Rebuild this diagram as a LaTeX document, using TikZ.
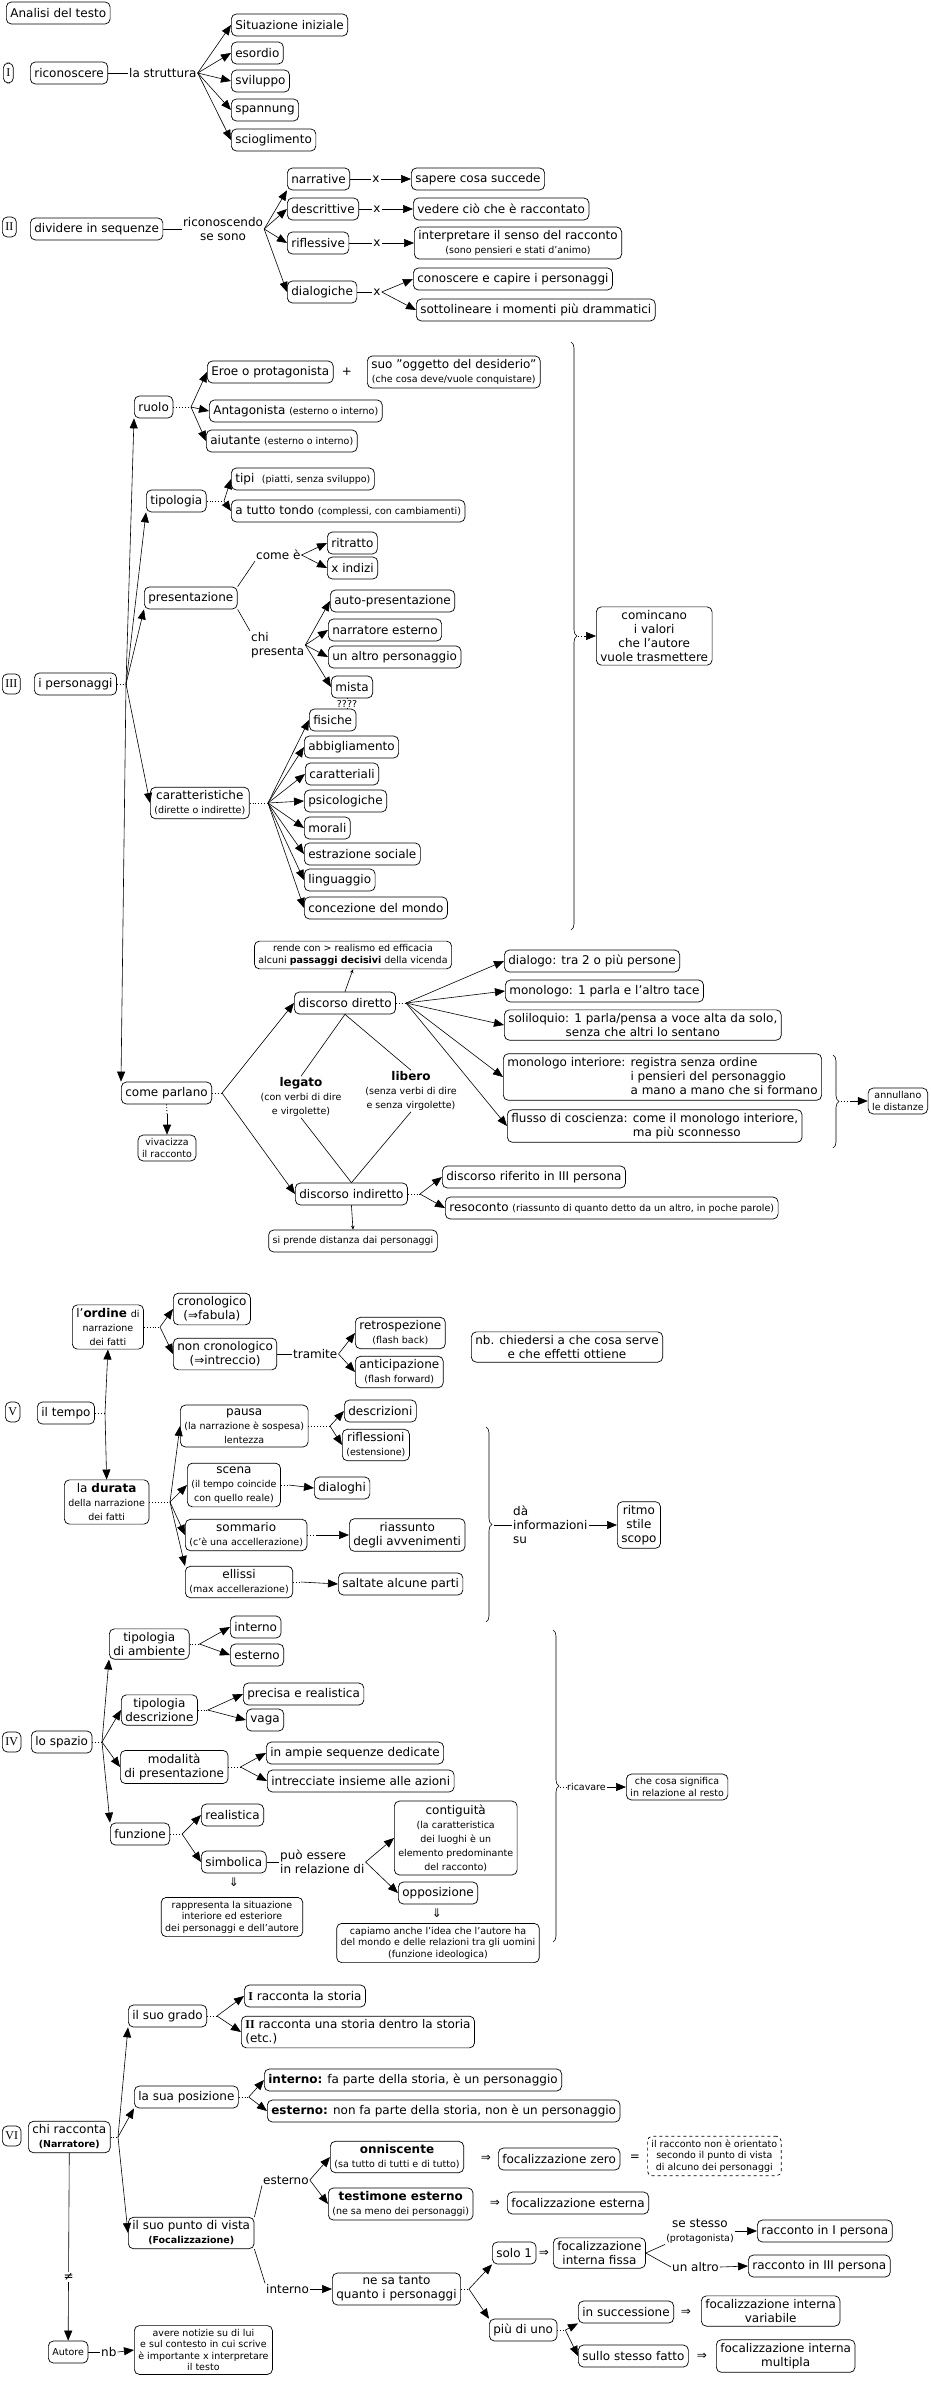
\documentclass[tikz,border=0pt]{standalone}
\usepackage{fontspec}
\setmainfont{DejaVu Sans}
\newfontfamily\romfont{Liberation Serif}
\usetikzlibrary{arrows.meta,decorations.pathreplacing}
\newcommand{\nf}{\fontsize{12}{14}\selectfont}
\newcommand{\smf}{\fontsize{9.5}{11.5}\selectfont}
\begin{document}
\begin{tikzpicture}[x=1pt,y=-1pt,
 bx/.style={draw, rounded corners=5pt, line width=0.7pt, inner xsep=4pt, inner ysep=3.5pt, minimum height=22pt, align=center, font=\nf},
 sbx/.style={bx, font=\smf},
 rm/.style={bx, font=\romfont\nf, minimum height=20pt, inner xsep=3pt},
 lb/.style={inner sep=1pt, align=center, font=\nf},
 slb/.style={lb, font=\smf},
 ar/.style={-{Triangle[length=10pt,width=8pt]}, line width=0.6pt},
 ln/.style={line width=0.6pt},
 dt/.style={dotted, line width=0.9pt},
 sa/.style={-{Stealth[length=4pt,width=3.5pt]}, line width=0.6pt},
 br/.style={decorate, decoration={brace, amplitude=6pt}, line width=0.6pt},
]
\fill[white] (0,0) rectangle (930,2381);
\useasboundingbox (0,0) rectangle (930,2381);

\node[bx,anchor=west] (ana) at (6,13) {Analisi del testo};

% ---------- I
\node[rm,anchor=west] (r1) at (3,73) {I};
\node[bx,anchor=west] (ric) at (30,73) {riconoscere};
\node[lb,anchor=west] (str) at (128,73) {la struttura};
\draw[ln] (ric) -- (str);
\node[bx,anchor=west] (s1) at (231,25) {Situazione iniziale};
\node[bx,anchor=west] (s2) at (231,53) {esordio};
\node[bx,anchor=west] (s3) at (231,81) {sviluppo};
\node[bx,anchor=west] (s4) at (231,110) {spannung};
\node[bx,anchor=west] (s5) at (231,140) {scioglimento};
\foreach \n in {s1,s2,s3,s4,s5} \draw[ar] (str.east) -- (\n.west);

% ---------- II
\node[rm,anchor=west] (r2) at (2,227) {II};
\node[bx,anchor=west] (div) at (30,229) {dividere in sequenze};
\node[lb] (ric2) at (223,229) {riconoscendo\\se sono};
\draw[ln] (div) -- (ric2);
\node[bx,anchor=west] (narr) at (287,179) {narrative};
\node[bx,anchor=west] (desc) at (287,209) {descrittive};
\node[bx,anchor=west] (rifl) at (287,243) {riflessive};
\node[bx,anchor=west] (dial) at (287,292) {dialogiche};
\draw[ar] (ric2.east) -- (narr.south west);
\draw[ar] (ric2.east) -- (desc.west);
\draw[ar] (ric2.east) -- (rifl.west);
\draw[ar] (ric2.east) -- (dial.west);
\node[lb] (x1) at (376,179) {x};
\node[lb] (x2) at (377,209) {x};
\node[lb] (x3) at (377,243) {x};
\node[lb] (x4) at (377,292) {x};
\node[bx,anchor=west] (sap) at (411,179) {sapere cosa succede};
\node[bx,anchor=west] (ved) at (413,209) {vedere ciò che è raccontato};
\node[bx,anchor=west] (intp) at (414,243) {interpretare il senso del racconto\\{\smf (sono pensieri e stati d'animo)}};
\node[bx,anchor=west] (con) at (413,279) {conoscere e capire i personaggi};
\node[bx,anchor=west] (sot) at (416,310) {sottolineare i momenti più drammatici};
\draw[ln] (narr) -- (x1); \draw[ar] (x1) -- (sap);
\draw[ln] (desc) -- (x2); \draw[ar] (x2) -- (ved);
\draw[ln] (rifl) -- (x3); \draw[ar] (x3) -- (intp);
\draw[ln] (dial) -- (x4); \draw[ar] (x4.east) -- (con.west); \draw[ar] (x4.east) -- (sot.west);

% ---------- III
\node[rm,anchor=west] (r3) at (2,684) {III};
\node[bx,anchor=west] (pers) at (34,684) {i personaggi};
\coordinate (pc) at (126,684);
\draw[dt] (pers.east) -- (pc);

\node[bx,anchor=west] (ruolo) at (134,407) {ruolo};
\node[bx,anchor=west] (eroe) at (207,372) {Eroe o protagonista};
\node[lb] (plus) at (347,372) {+};
\node[bx,anchor=west] (ogg) at (367,372) {suo "oggetto del desiderio"\\{\smf (che cosa deve/vuole conquistare)}};
\node[bx,anchor=west] (ant) at (209,411) {Antagonista {\smf (esterno o interno)}};
\node[bx,anchor=west] (aiu) at (206,441) {aiutante {\smf (esterno o interno)}};
\coordinate (rc) at (191,407);
\draw[dt] (ruolo.east) -- (rc);
\draw[ar] (rc) -- (eroe.west); \draw[ar] (rc) -- (ant.west); \draw[ar] (rc) -- (aiu.west);

\node[bx,anchor=west] (tipol) at (146,501) {tipologia};
\node[bx,anchor=west] (tipi) at (231,479) {tipi~~{\smf (piatti, senza sviluppo)}};
\node[bx,anchor=west] (tt) at (231,511) {a tutto tondo {\smf (complessi, con cambiamenti)}};
\coordinate (tc) at (224,501);
\draw[dt] (tipol.east) -- (tc);
\draw[ar] (tc) -- (tipi.west); \draw[ar] (tc) -- (tt.west);

\node[bx,anchor=west] (pres) at (144,598) {presentazione};
\node[lb,anchor=west] (comee) at (255,555) {come è};
\node[bx,anchor=west] (ritr) at (327,543) {ritratto};
\node[bx,anchor=west] (xind) at (327,568) {x indizi};
\draw[ln] (pres.north east) -- (comee.south west);
\draw[ar] (comee.east) -- (ritr.west); \draw[ar] (comee.east) -- (xind.west);
\node[lb,anchor=west,align=left] (chip) at (250,645) {chi\\presenta};
\draw[ln] (pres.south east) -- (chip.north west);
\node[bx,anchor=west] (auto) at (330,601) {auto-presentazione};
\node[bx,anchor=west] (nare) at (328,630) {narratore esterno};
\node[bx,anchor=west] (altro) at (328,657) {un altro personaggio};
\node[bx,anchor=west] (mista) at (331,687) {mista};
\draw[ar] (chip.east) -- (auto.west); \draw[ar] (chip.east) -- (nare.west);
\draw[ar] (chip.east) -- (altro.west); \draw[ar] (chip.east) -- (mista.west);

\node[bx,anchor=west] (fis) at (309,720) {fisiche};
\draw[ln] (347,698) -- node[slb,fill=white,inner sep=0.5pt] {????} (347,709);
\node[bx,anchor=west] (abb) at (304,747) {abbigliamento};
\node[bx,anchor=west] (carl) at (305,774) {caratteriali};
\node[bx,anchor=west] (psi) at (304,801) {psicologiche};
\node[bx,anchor=west] (mor) at (304,828) {morali};
\node[bx,anchor=west] (estr) at (304,854) {estrazione sociale};
\node[bx,anchor=west] (ling) at (304,880) {linguaggio};
\node[bx,anchor=west] (conc) at (304,908) {concezione del mondo};
\node[bx,anchor=west] (car) at (150,803) {caratteristiche\\{\smf (dirette o indirette)}};
\coordinate (cc) at (268,803);
\draw[dt] (car.east) -- (cc);
\foreach \n in {fis,abb,carl,psi,mor,estr,ling,conc} \draw[ar] (cc) -- (\n.west);

\draw[br] (571,342) -- (571,930);
\node[bx,anchor=west] (com) at (596,636) {comincano\\i valori\\che l'autore\\vuole trasmettere};
\draw[dt] (578,636) -- (585,636);
\draw[ar] (585,636) -- (com.west);

\node[bx,anchor=west] (parl) at (121,1093) {come parlano};
\node[sbx] (viv) at (167,1148) {vivacizza\\il racconto};
\coordinate (pv) at (167,1114);
\draw[dt] (parl.south) -- (pv); \draw[ar] (pv) -- (viv.north);
\node[bx,anchor=west] (dd) at (294,1003) {discorso diretto};
\node[bx,anchor=west] (di) at (295,1194) {discorso indiretto};
\coordinate (pc2) at (222,1093);
\draw[dt] (parl.east) -- (pc2);
\draw[ar] (pc2) -- (dd.west); \draw[ar] (pc2) -- (di.west);

\draw[ar] (pc) -- (ruolo.south west);
\draw[ar] (pc) -- (tipol.south west);
\draw[ar] (pc) -- (pres.south west);
\draw[ar] (pc) -- (car.west);
\draw[ar] (pc) -- (parl.north west);

\node[sbx] (rende) at (353,955) {rende con > realismo ed efficacia\\alcuni \textbf{passaggi decisivi} della vicenda};
\draw[sa] (dd.north) -- (rende.south);

\node[lb] (leg) at (301,1097) {\textbf{legato}\\{\smf (con verbi di dire}\\{\smf e virgolette)}};
\node[lb] (lib) at (411,1091) {\textbf{libero}\\{\smf (senza verbi di dire}\\{\smf e senza virgolette)}};
\draw[ln] (dd.south) -- (leg.north); \draw[ln] (leg.south) -- (di.north);
\draw[ln] (dd.south) -- (lib.north); \draw[ln] (lib.south) -- (di.north);

\node[bx,anchor=west] (dia) at (504,961) {dialogo: tra 2 o più persone};
\node[bx,anchor=west] (mon) at (505,991) {monologo: 1 parla e l'altro tace};
\node[bx,anchor=west] (sol) at (504,1025) {soliloquio: 1 parla/pensa a voce alta da solo,\\senza che altri lo sentano};
\node[bx,anchor=west,align=left] (mi) at (503,1077) {monologo interiore: registra senza ordine\\\phantom{monologo interiore: }i pensieri del personaggio\\\phantom{monologo interiore: }a mano a mano che si formano};
\node[bx,anchor=west,align=left] (flu) at (507,1126) {flusso di coscienza: come il monologo interiore,\\\phantom{flusso di coscienza: }ma più sconnesso};
\coordinate (pd) at (406,1003);
\draw[dt] (dd.east) -- (pd);
\foreach \n in {dia,mon,sol,mi,flu} \draw[ar] (pd) -- (\n.west);

\draw[br] (833,1055) -- (833,1148);
\node[sbx,anchor=east] (ann) at (928,1101) {annullano\\le distanze};
\draw[dt] (841,1101) -- (851,1101);
\draw[ar] (851,1101) -- (ann.west);

\node[bx,anchor=west] (rif) at (442,1177) {discorso riferito in III persona};
\node[bx,anchor=west] (reso) at (445,1208) {resoconto {\smf (riassunto di quanto detto da un altro, in poche parole)}};
\coordinate (pi) at (420,1194);
\draw[dt] (di.east) -- (pi);
\draw[ar] (pi) -- (rif.west); \draw[ar] (pi) -- (reso.west);
\node[sbx] (dist) at (353,1241) {si prende distanza dai personaggi};
\draw[sa] (di.south) -- (dist.north);

% ---------- V
\node[bx,anchor=west] (ord) at (72,1327) {l'\textbf{ordine} {\smf di}\\{\smf narrazione}\\{\smf dei fatti}};
\node[bx,anchor=west] (cro) at (173,1309) {cronologico\\(⇒fabula)};
\node[bx,anchor=west] (ncro) at (173,1354) {non cronologico\\(⇒intreccio)};
\coordinate (oc) at (160,1327);
\draw[dt] (ord.east) -- (oc);
\draw[ar] (oc) -- (cro.west); \draw[ar] (oc) -- (ncro.west);
\node[lb,anchor=west] (tram) at (292,1354) {tramite};
\draw[ln] (ncro.east) -- (tram.west);
\node[bx,anchor=west] (retro) at (355,1333) {retrospezione\\{\smf (flash back)}};
\node[bx,anchor=west] (antic) at (355,1372) {anticipazione\\{\smf (flash forward)}};
\draw[ar] (tram.east) -- (retro.west); \draw[ar] (tram.east) -- (antic.west);
\node[bx,anchor=west] (nb) at (471,1347) {nb. chiedersi a che cosa serve\\e che effetti ottiene};

\node[rm,anchor=west] (r5) at (5,1412) {V};
\node[bx,anchor=west] (tempo) at (37,1413) {il tempo};
\coordinate (tpc) at (105,1413);
\draw[dt] (tempo.east) -- (tpc);
\node[bx,anchor=west] (dur) at (64,1502) {la \textbf{durata}\\{\smf della narrazione}\\{\smf dei fatti}};
\draw[ar] (tpc) -- (ord.south); \draw[ar] (tpc) -- (dur.north);

\node[bx,anchor=west] (pausa) at (180,1426) {pausa\\{\smf (la narrazione è sospesa)}\\{\smf lentezza}};
\node[bx,anchor=west] (descr) at (344,1411) {descrizioni};
\node[bx,anchor=west] (riflz) at (342,1445) {riflessioni\\{\smf (estensione)}};
\coordinate (pac) at (330,1426);
\draw[dt] (pausa.east) -- (pac);
\draw[ar] (pac) -- (descr.west); \draw[ar] (pac) -- (riflz.west);
\node[bx,anchor=west] (scena) at (187,1485) {scena\\{\smf (il tempo coincide}\\{\smf con quello reale)}};
\node[bx,anchor=west] (dlg) at (314,1488) {dialoghi};
\draw[dt] (scena.east) -- ++(8,0) coordinate (sc);
\draw[ar] (sc) -- (dlg.west);
\node[bx,anchor=west] (som) at (185,1535) {sommario\\{\smf (c'è una accellerazione)}};
\node[bx,anchor=west] (ria) at (349,1535) {riassunto\\degli avvenimenti};
\draw[dt] (som.east) -- ++(10,0) coordinate (smc);
\draw[ar] (smc) -- (ria.west);
\node[bx,anchor=west] (ell) at (185,1582) {ellissi\\{\smf (max accellerazione)}};
\node[bx,anchor=west] (salt) at (338,1584) {saltate alcune parti};
\draw[dt] (ell.east) -- ++(8,0) coordinate (elc);
\draw[ar] (elc) -- (salt.west);
\coordinate (dc) at (170,1502);
\draw[dt] (dur.east) -- (dc);
\draw[ar] (dc) -- (pausa.west); \draw[ar] (dc) -- (scena.west);
\draw[ar] (dc) -- (som.west); \draw[ar] (dc) -- (ell.north west);

\draw[br] (486,1427) -- (486,1622);
\node[lb,anchor=west,align=left] (da) at (512,1525) {dà\\informazioni\\su};
\draw[ln] (494,1525) -- (da.west);
\node[bx,anchor=west] (rit) at (617,1525) {ritmo\\stile\\scopo};
\draw[ar] (da.east) -- (rit.west);

% ---------- IV
\node[rm,anchor=west] (r4) at (2,1742) {IV};
\node[bx,anchor=west] (spazio) at (31,1742) {lo spazio};
\coordinate (spc) at (102,1742);
\draw[dt] (spazio.east) -- (spc);
\node[bx,anchor=west] (amb) at (109,1644) {tipologia\\di ambiente};
\node[bx,anchor=west] (inte) at (230,1627) {interno};
\node[bx,anchor=west] (este) at (230,1655) {esterno};
\draw[dt] (amb.east) -- ++(10,0) coordinate (ac);
\draw[ar] (ac) -- (inte.west); \draw[ar] (ac) -- (este.west);
\node[bx,anchor=west] (tdes) at (121,1710) {tipologia\\descrizione};
\node[bx,anchor=west] (prec) at (243,1694) {precisa e realistica};
\node[bx,anchor=west] (vaga) at (246,1720) {vaga};
\draw[dt] (tdes.east) -- ++(10,0) coordinate (tdc);
\draw[ar] (tdc) -- (prec.west); \draw[ar] (tdc) -- (vaga.west);
\node[bx,anchor=west] (mod) at (120,1767) {modalità\\di presentazione};
\node[bx,anchor=west] (amp) at (266,1753) {in ampie sequenze dedicate};
\node[bx,anchor=west] (intr) at (267,1781) {intrecciate insieme alle azioni};
\draw[dt] (mod.east) -- ++(12,0) coordinate (mc);
\draw[ar] (mc) -- (amp.west); \draw[ar] (mc) -- (intr.west);
\node[bx,anchor=west] (fun) at (110,1834) {funzione};
\node[bx,anchor=west] (real) at (201,1815) {realistica};
\node[bx,anchor=west] (simb) at (201,1862) {simbolica};
\draw[dt] (fun.east) -- ++(12,0) coordinate (fc);
\draw[ar] (fc) -- (real.west); \draw[ar] (fc) -- (simb.west);
\draw[ar] (spc) -- (amb.south west); \draw[ar] (spc) -- (tdes.west);
\draw[ar] (spc) -- (mod.west); \draw[ar] (spc) -- (fun.north west);

\node[lb,anchor=west,align=left] (pue) at (279,1862) {può essere\\in relazione di};
\draw[ln] (simb.east) -- (pue.west);
\node[bx,anchor=west] (cont) at (394,1838) {contiguità\\{\smf (la caratteristica}\\{\smf dei luoghi è un}\\{\smf elemento predominante}\\{\smf del racconto)}};
\node[bx,anchor=west] (opp) at (398,1893) {opposizione};
\draw[ar] (pue.east) -- (cont.west); \draw[ar] (pue.east) -- (opp.west);
\node[lb] (dn1) at (234,1882) {⇓};
\node[sbx] (rap) at (232,1917) {rappresenta la situazione\\interiore ed esteriore\\dei personaggi e dell'autore};
\node[lb] (dn2) at (437,1913) {⇓};
\node[sbx] (cap) at (438,1943) {capiamo anche l'idea che l'autore ha\\del mondo e delle relazioni tra gli uomini\\(funzione ideologica)};

\draw[br] (553,1630) -- (553,1942);
\draw[dt] (560,1787) -- (566,1787);
\node[slb,anchor=west] (rcv) at (566,1787) {ricavare};
\node[sbx,anchor=west] (sig) at (626,1787) {che cosa significa\\in relazione al resto};
\draw[ar] (rcv.east) -- (sig.west);

% ---------- VI
\node[rm,anchor=west] (r6) at (2,2136) {VI};
\node[bx,anchor=west] (chi) at (28,2137) {chi racconta\\{\smf\bfseries (Narratore)}};
\coordinate (chc) at (118,2137);
\draw[dt] (chi.east) -- (chc);
\node[bx,anchor=west] (grado) at (128,2016) {il suo grado};
\node[bx,anchor=west] (g1) at (244,1996) {{\romfont\bfseries I} racconta la storia};
\node[bx,anchor=west,align=left] (g2) at (241,2032) {{\romfont\bfseries II} racconta una storia dentro la storia\\(etc.)};
\draw[dt] (grado.east) -- ++(10,0) coordinate (gc);
\draw[ar] (gc) -- (g1.west); \draw[ar] (gc) -- (g2.west);
\node[bx,anchor=west] (pos) at (134,2097) {la sua posizione};
\node[bx,anchor=west] (pint) at (264,2080) {\textbf{interno:} fa parte della storia, è un personaggio};
\node[bx,anchor=west] (pest) at (267,2111) {\textbf{esterno:} non fa parte della storia, non è un personaggio};
\draw[dt] (pos.east) -- ++(10,0) coordinate (poc);
\draw[ar] (poc) -- (pint.west); \draw[ar] (poc) -- (pest.west);
\node[bx,anchor=west] (pdv) at (128,2233) {il suo punto di vista\\{\smf\bfseries (Focalizzazione)}};
\draw[ar] (chc) -- (grado.south west); \draw[ar] (chc) -- (pos.south west); \draw[ar] (chc) -- (pdv.west);

\node[lb,anchor=west] (estl) at (262,2180) {esterno};
\draw[ln] (pdv.north east) -- (estl.south west);
\node[bx,anchor=west] (onn) at (330,2157) {\textbf{onniscente}\\{\smf (sa tutto di tutti e di tutto)}};
\node[bx,anchor=west] (test) at (328,2204) {\textbf{testimone esterno}\\{\smf (ne sa meno dei personaggi)}};
\draw[ar] (estl.east) -- (onn.west); \draw[ar] (estl.east) -- (test.west);
\node[lb] (i1) at (486,2158) {⇒};
\node[bx,anchor=west] (fz) at (498,2159) {focalizzazione zero};
\node[lb] (eq) at (635,2158) {=};
\node[sbx,dashed,anchor=west] (nor) at (647,2156) {il racconto non è orientato\\secondo il punto di vista\\di alcuno dei personaggi};
\node[lb] (i2) at (495,2203) {⇒};
\node[bx,anchor=west] (fe) at (507,2203) {focalizzazione esterna};

\node[lb,anchor=west] (intl) at (265,2289) {interno};
\draw[ln] (pdv.south east) -- (intl.north west);
\node[bx,anchor=west] (nst) at (332,2289) {ne sa tanto\\quanto i personaggi};
\draw[ar] (intl.east) -- (nst.west);
\node[bx,anchor=west] (solo) at (492,2253) {solo 1};
\node[lb] (i3) at (544,2253) {⇒};
\node[bx,anchor=west] (fif) at (553,2253) {focalizzazione\\interna fissa};
\node[lb] (ses) at (700,2231) {se stesso\\{\smf (protagonista)}};
\node[bx,anchor=west] (r1p) at (757,2231) {racconto in I persona};
\node[lb,anchor=west] (ua) at (671,2267) {un altro};
\node[bx,anchor=west] (r3p) at (748,2266) {racconto in III persona};
\draw[ln] (fif.east) -- (ses.south west); \draw[ar] (ses.east) -- (r1p.west);
\draw[ln] (fif.east) -- (ua.west); \draw[ar] (ua.east) -- (r3p.west);
\node[bx,anchor=west] (piu) at (489,2330) {più di uno};
\draw[dt] (nst.east) -- ++(8,0) coordinate (nc);
\draw[ar] (nc) -- (solo.south west); \draw[ar] (nc) -- (piu.north west);
\node[bx,anchor=west] (succ) at (578,2312) {in successione};
\node[lb] (i4) at (686,2312) {⇒};
\node[bx,anchor=west] (fiv) at (701,2311) {focalizzazione interna\\variabile};
\node[bx,anchor=west] (sst) at (578,2356) {sullo stesso fatto};
\node[lb] (i5) at (702,2356) {⇒};
\node[bx,anchor=west] (fim) at (716,2356) {focalizzazione interna\\multipla};
\draw[dt] (piu.east) -- ++(8,0) coordinate (puc);
\draw[ar] (puc) -- (succ.south west); \draw[ar] (puc) -- (sst.west);

\node[sbx,anchor=west] (aut) at (48,2352) {Autore};
\draw[ar] (chi.south) -- node[lb,fill=white,pos=0.66] {≠} (aut.north);
\node[lb,anchor=west] (nb2) at (100,2352) {nb};
\draw[ln] (aut.east) -- (nb2.west);
\node[sbx,anchor=west] (av) at (134,2350) {avere notizie su di lui\\e sul contesto in cui scrive\\è importante x interpretare\\il testo};
\draw[ar] (nb2.east) -- (av.west);
\end{tikzpicture}
\end{document}
